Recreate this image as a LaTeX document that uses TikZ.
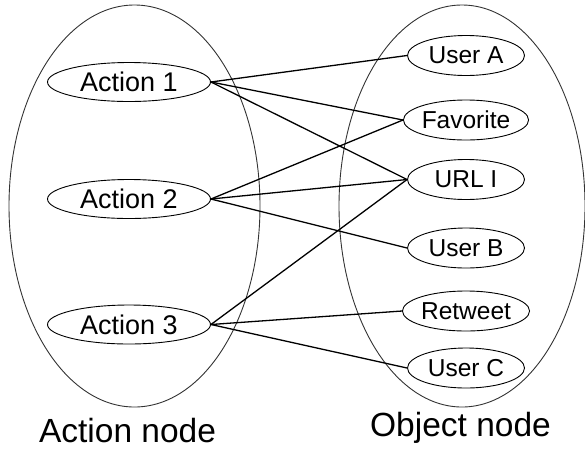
\documentclass[tikz,border=0pt]{standalone}
\usepackage{fontspec}
\setmainfont{Liberation Sans}
\usetikzlibrary{shapes.geometric}
\begin{document}
\begin{tikzpicture}[x=1pt,y=-1pt,
  group/.style={draw=black!80,line width=0.9pt,ellipse,inner sep=0pt},
  act/.style={draw=black,line width=0.9pt,ellipse,inner sep=0pt,minimum width=163pt,minimum height=39pt,font=\fontsize{27}{30}\selectfont},
  obj/.style={draw=black,line width=0.9pt,ellipse,inner sep=0pt,minimum width=117pt,minimum height=40pt,font=\fontsize{24.5}{27}\selectfont},
  link/.style={draw=black,line width=1.3pt},
  grouplabel/.style={anchor=base,inner sep=0pt,font=\fontsize{33.5}{38}\selectfont}]
\useasboundingbox (0,0) rectangle (585,448);
\node[group,minimum width=251pt,minimum height=402pt] (L) at (134.5,206) {};
\node[group,minimum width=246pt,minimum height=402pt] (R) at (462,206) {};
\node[act] (a1) at (129,82) {Action 1};
\node[act] (a2) at (129,199) {Action 2};
\node[act] (a3) at (129,324.5) {Action 3};
\node[obj] (ua) at (466,55.5) {User A};
\node[obj] (fav) at (466,120) {Favorite};
\node[obj] (url) at (466,179.5) {URL I};
\node[obj] (ub) at (466,248) {User B};
\node[obj] (rt) at (466,311) {Retweet};
\node[obj] (uc) at (466,368) {User C};
\node[grouplabel,text depth=0pt] (lc) at (127.5,442) {Action node};
\node[grouplabel] (rc) at (460.5,436) {Object node};
\draw[link] (a1.east) -- (ua.west);
\draw[link] (a1.east) -- (fav.west);
\draw[link] (a1.east) -- (url.west);
\draw[link] (a2.east) -- (fav.west);
\draw[link] (a2.east) -- (url.west);
\draw[link] (a2.east) -- (ub.west);
\draw[link] (a3.east) -- (url.west);
\draw[link] (a3.east) -- (rt.west);
\draw[link] (a3.east) -- (uc.west);
\end{tikzpicture}
\end{document}
